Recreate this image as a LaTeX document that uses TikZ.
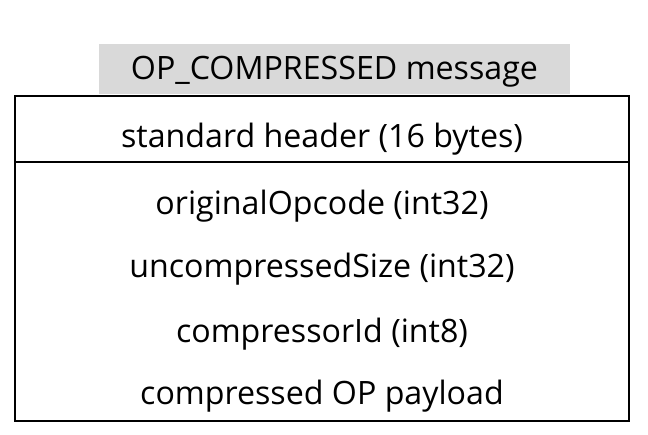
\documentclass[tikz,border=0pt]{standalone}
\usepackage{fontspec}
\setmainfont{Open Sans}
\begin{document}
\begin{tikzpicture}[x=1bp,y=-1bp,
  lbl/.style={anchor=base,inner sep=0pt,font=\fontsize{32.3}{38}\selectfont},
  frame/.style={draw=black,line width=2.2bp}]
\useasboundingbox (0,0) rectangle (648,435);
\fill[gray!30] (99,44) rectangle (570,94);
\node[lbl] (title) at (334.5,80) {OP\_COMPRESSED message};
\draw[frame] (15,96) rectangle (629,421);
\coordinate (dl) at (15,162);
\coordinate (dr) at (629,162);
\draw[frame] (dl) -- (dr);
\node[lbl] (hdr) at (322,148) {standard header (16 bytes)};
\node[lbl] (f1) at (322,214.5) {originalOpcode (int32)};
\node[lbl] (f2) at (322,277.5) {uncompressedSize (int32)};
\node[lbl] (f3) at (322,342) {compressorId (int8)};
\node[lbl] (f4) at (322,404.5) {compressed OP payload};
\end{tikzpicture}
\end{document}
